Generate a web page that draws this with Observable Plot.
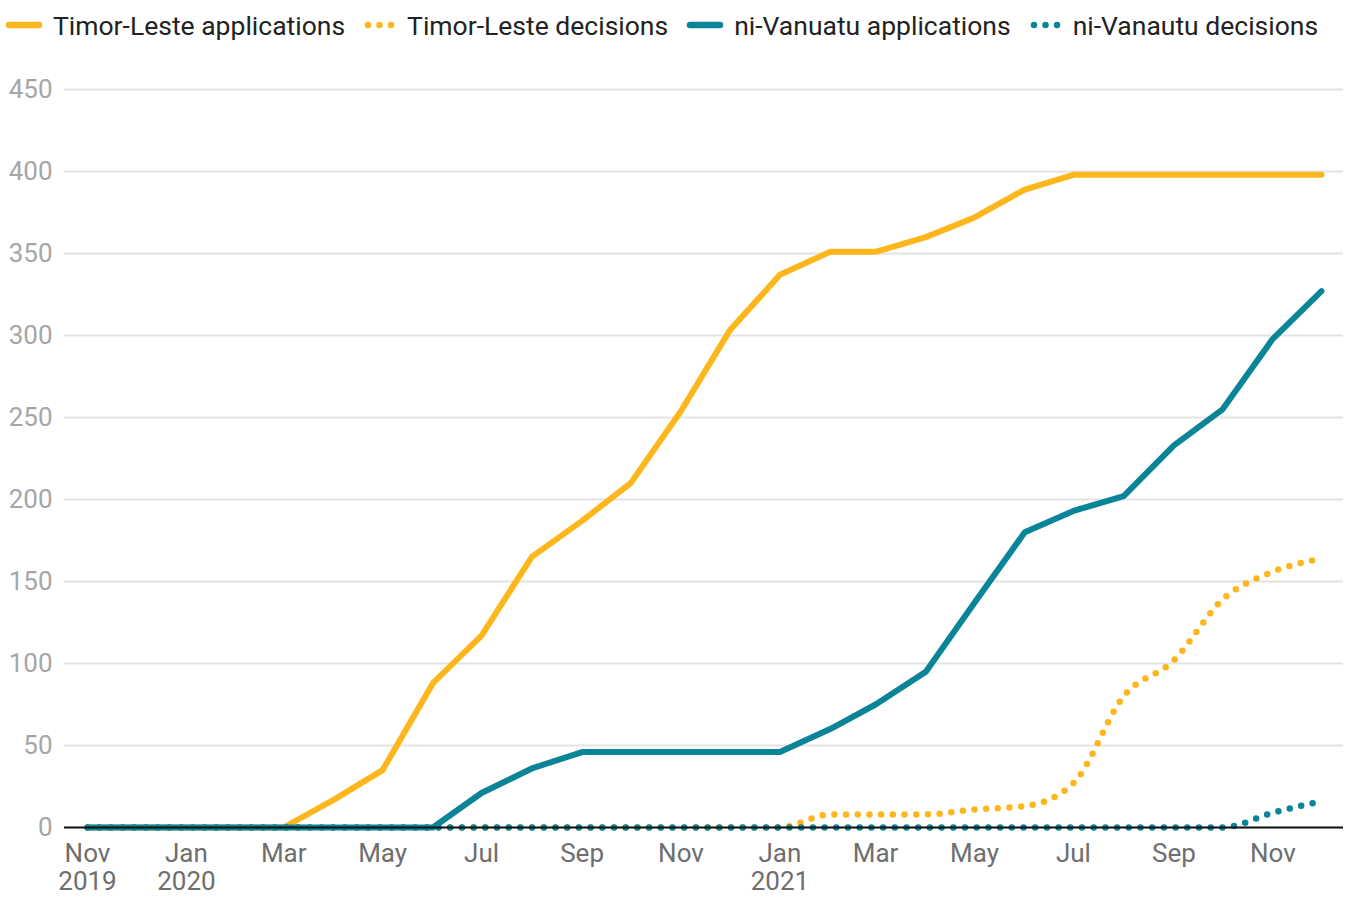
<!DOCTYPE html>
<html>
<head>
<meta charset="utf-8">
<script src="https://cdn.jsdelivr.net/npm/d3@7"></script>
<script src="https://cdn.jsdelivr.net/npm/@observablehq/plot@0.6"></script>
<style>
  body { margin: 0; background: #fff; font-family: Roboto, "Noto Sans", sans-serif; }
  #legend { height: 50px; display: flex; align-items: center; padding-left: 5px; font-size: 26.5px; color: #222; white-space: nowrap; }
  .item { display: flex; align-items: center; margin-right: 18px; }
  .item svg { margin-right: 10px; }
</style>
</head>
<body>
<div id="legend"></div>
<div id="chart"></div>
<script>
const months = ["2019-11","2019-12","2020-01","2020-02","2020-03","2020-04","2020-05","2020-06","2020-07","2020-08","2020-09","2020-10","2020-11","2020-12","2021-01","2021-02","2021-03","2021-04","2021-05","2021-06","2021-07","2021-08","2021-09","2021-10","2021-11","2021-12"];
const timorApplications = [0,0,0,0,0,17,35,88,117,165,187,210,254,303,337,351,351,360,372,389,398,398,398,398,398,398];
const timorDecisions    = [0,0,0,0,0,0,0,0,0,0,0,0,0,0,0,8,8,8,11,13,27,80,102,139,156,164];
const vanuatuApplications = [0,0,0,0,0,0,0,0,21,36,46,46,46,46,46,60,75,95,137,180,193,202,233,255,298,327];
const vanuatuDecisions  = [0,0,0,0,0,0,0,0,0,0,0,0,0,0,0,0,0,0,0,0,0,0,0,0,9,16];
const seriesNames = ["Timor-Leste applications","Timor-Leste decisions","ni-Vanuatu applications","ni-Vanautu decisions"];
const seriesColors = ["#fdb71c","#fdb71c","#0a8497","#0a8497"];
const seriesDotted = [false,true,false,true];
const yTicks = [0,50,100,150,200,250,300,350,400,450];
const monthNames = ["Jan","Feb","Mar","Apr","May","Jun","Jul","Aug","Sep","Oct","Nov","Dec"];

const parse = d3.utcParse("%Y-%m");
const dates = months.map(parse);
const allValues = [timorApplications, timorDecisions, vanuatuApplications, vanuatuDecisions];
const data = allValues.flatMap((vals, s) => vals.map((v, i) => ({date: dates[i], value: v, series: seriesNames[s]})));
const xTicks = dates.filter((d, i) => i % 2 === 0);

// legend
const legend = document.getElementById("legend");
seriesNames.forEach((name, i) => {
  const item = document.createElement("div");
  item.className = "item";
  const sw = seriesDotted[i]
    ? `<svg width="34" height="10"><line x1="5" y1="5" x2="28.5" y2="5" stroke="${seriesColors[i]}" stroke-width="6.5" stroke-linecap="round" stroke-dasharray="0,11.5"/></svg>`
    : `<svg width="38" height="10"><line x1="4" y1="5" x2="34" y2="5" stroke="${seriesColors[i]}" stroke-width="6.5" stroke-linecap="round"/></svg>`;
  item.innerHTML = `${sw}<span>${name}</span>`;
  legend.appendChild(item);
});

const lineFor = (i) => Plot.line(data.filter(d => d.series === seriesNames[i]), {
  x: "date", y: "value",
  stroke: seriesColors[i],
  strokeWidth: seriesDotted[i] ? 6.5 : 6,
  strokeLinecap: "round",
  strokeLinejoin: "round",
  strokeDasharray: seriesDotted[i] ? "0,11.7" : null,
  curve: seriesDotted[i] ? "monotone-x" : "linear"
});

const chart = Plot.plot({
  width: 1347,
  height: 849,
  marginTop: 39,
  marginBottom: 72,
  marginLeft: 64,
  marginRight: 4,
  style: {fontFamily: "Roboto, 'Noto Sans', sans-serif", fontSize: "26px", background: "#fff"},
  x: {type: "utc", domain: [dates[0], dates[dates.length - 1]], insetLeft: 23, insetRight: 22},
  y: {domain: [0, 450]},
  marks: [
    Plot.gridY(yTicks, {stroke: "#e3e3e3", strokeOpacity: 1, strokeWidth: 2}),
    Plot.axisY(yTicks, {tickSize: 0, tickPadding: 12, fill: "#a6a6a6", fontSize: 26, label: null}),
    Plot.axisX(xTicks, {
      tickSize: 0, tickPadding: 14, fill: "#6e6e6e", fontSize: 26, label: null, lineHeight: 1.1,
      tickFormat: (d, i) => {
        const m = monthNames[d.getUTCMonth()];
        return (i === 0 || d.getUTCMonth() === 0) ? `${m}\n${d.getUTCFullYear()}` : m;
      }
    }),
    lineFor(1),
    lineFor(0),
    lineFor(3),
    lineFor(2),
    Plot.ruleY([0], {stroke: "#111", strokeWidth: 2})
  ]
});
document.getElementById("chart").appendChild(chart);
</script>
</body>
</html>
